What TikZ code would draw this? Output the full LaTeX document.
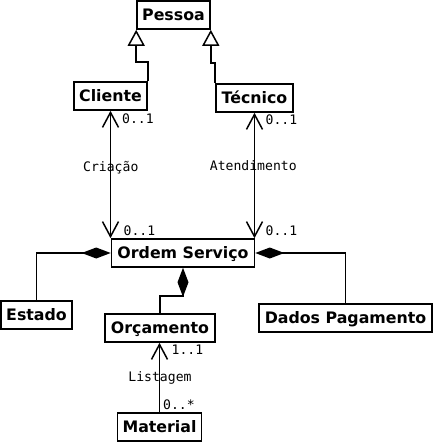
\documentclass[tikz,border=0pt]{standalone}
\usepackage{fontspec}
\setmainfont{DejaVu Sans}
\setmonofont{DejaVu Sans Mono}
\usetikzlibrary{arrows.meta}

\begin{document}
\begin{tikzpicture}[
        x=1pt, y=-1pt,
        cls/.style={draw=black, line width=1.6pt, inner sep=0pt, minimum height=28pt,
                    text height=11.5pt, text depth=0pt, font=\fontsize{15.8}{18}\selectfont\bfseries},
        mult/.style={inner sep=0pt, text height=9.5pt, text depth=0pt, font=\fontsize{13.1}{15}\selectfont\ttfamily},
        gen/.style={-{Triangle[open, length=16pt, width=17pt, fill=white]}, line width=1.5pt},
        assoc/.style={{Straight Barb[length=15pt, width=16pt]}-{Straight Barb[length=15pt, width=16pt]}, line width=1.5pt},
        nav/.style={-{Straight Barb[length=15pt, width=16pt]}, line width=1.5pt},
        comp/.style={-{Diamond[length=29pt, width=11pt]}, line width=1.5pt}
    ]
        \useasboundingbox (0,0) rectangle (434,442);

        % classes
        \node[cls, minimum width=73pt] (pessoa) at (173.5, 15) {Pessoa};
        \node[cls, minimum width=73pt] (cliente) at (110.5, 96) {Cliente};
        \node[cls, minimum width=77pt] (tecnico) at (254.5, 98) {Técnico};
        \node[cls, minimum width=143pt] (ordem) at (183, 253) {Ordem Serviço};
        \node[cls, minimum width=71pt] (estado) at (36.5, 315) {Estado};
        \node[cls, minimum width=110pt] (orcamento) at (160, 328) {Orçamento};
        \node[cls, minimum width=173pt] (dados) at (345.5, 318) {Dados Pagamento};
        \node[cls, minimum width=84pt] (material) at (159.5, 427) {Material};

        % heranca
        \draw[gen] (cliente.north east) -- ++(0,-19) -| (pessoa.south west);
        \draw[gen] (tecnico.north west) -- ++(0,-20) -| (pessoa.south east);

        % associacoes
        \draw[assoc] (cliente.south) -- (cliente.south |- ordem.north);
        \draw[assoc] (tecnico.south) -- (tecnico.south |- ordem.north);
        \draw[nav] (material.north) -- (material.north |- orcamento.south);

        % composicoes
        \draw[comp] (estado.north) |- (ordem.west);
        \draw[comp] (dados.north) |- (ordem.east);
        \draw[comp] (orcamento.north) -- ++(0,-17) -| (ordem.south);

        % rotulos
        \node[mult, anchor=west] (mc1) at (122, 119) {0..1};
        \node[mult, anchor=west] (mc2) at (123.5, 231) {0..1};
        \node[mult] (criacao) at (110.8, 167) {Criação};
        \node[mult, anchor=west] (mt1) at (265.5, 119.5) {0..1};
        \node[mult, anchor=west] (mt2) at (265.5, 231) {0..1};
        \node[mult] (atend) at (253.3, 166) {Atendimento};
        \node[mult, anchor=west] (mo1) at (171.5, 350) {1..1};
        \node[mult] (listagem) at (160, 377) {Listagem};
        \node[mult, anchor=west] (mm1) at (163, 405) {0..*};
\end{tikzpicture}
\end{document}
